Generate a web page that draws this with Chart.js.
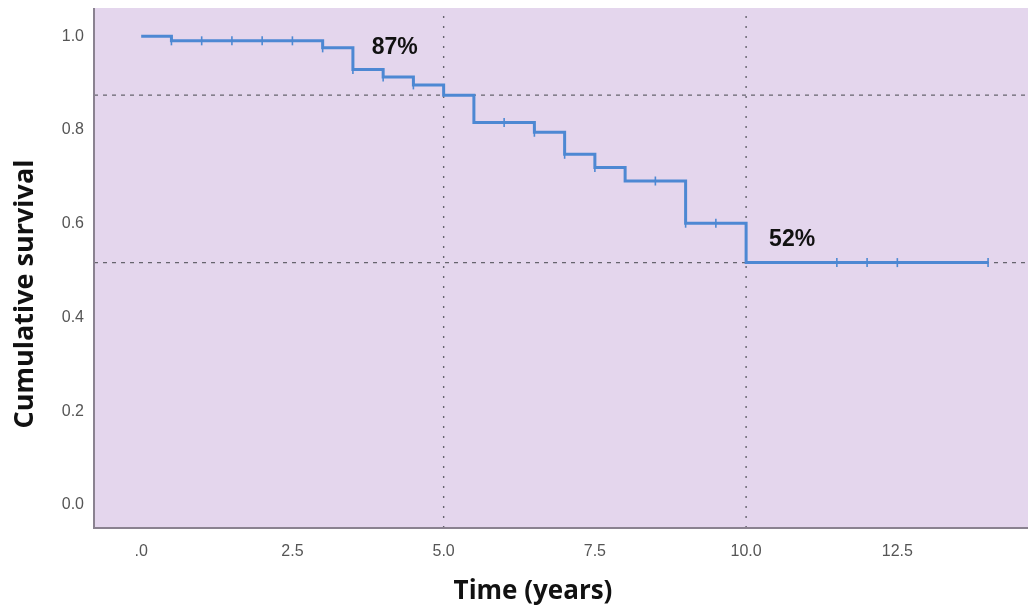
<!DOCTYPE html>
<html>
<head>
<meta charset="utf-8">
<script src="https://cdn.jsdelivr.net/npm/chart.js@4.4.1/dist/chart.umd.min.js"></script>
<style>
  html, body { margin: 0; padding: 0; background: #ffffff; overflow: hidden; }
  #km { display: block; }
</style>
</head>
<body>
<canvas id="km" width="1028" height="607"></canvas>
<script>
// Kaplan–Meier estimate: step times and survival after each step
const eventTimes = [0, 0.5, 3.0, 3.5, 4.0, 4.5, 5.0, 5.5, 6.5, 7.0, 7.5, 8.0, 9.0, 10.0, 14.0];
const survival   = [1.0, 0.99, 0.975, 0.929, 0.913, 0.896, 0.874, 0.816, 0.795, 0.748, 0.72, 0.691, 0.601, 0.517, 0.517];

// Censored observations (years)
const censorTimes = [0.5, 1.0, 1.5, 2.0, 2.5, 3.0, 3.5, 4.0, 4.5, 6.0, 6.5, 7.0, 7.5, 8.5, 9.0, 9.5, 11.5, 12.0, 12.5, 14.0];

// Landmark times with reference lines
const landmarkTimes = [5, 10];

// Axis ticks
const xTicks = [0, 2.5, 5.0, 7.5, 10.0, 12.5];
const xTickLabels = ['.0', '2.5', '5.0', '7.5', '10.0', '12.5'];
const yTicks = [0.0, 0.2, 0.4, 0.6, 0.8, 1.0];

const xTitle = 'Time (years)';
const yTitle = 'Cumulative survival';

const X_MIN = -0.78, X_MAX = 14.66;
const Y_MIN = -0.049, Y_MAX = 1.06;

// survival level in effect at time t
function survivalAt(t) {
  let s = survival[0];
  for (let i = 0; i < eventTimes.length; i++) {
    if (eventTimes[i] <= t) s = survival[i];
  }
  return s;
}

const lineBlue = '#4d88d3';
const refGrey = '#66646e';

const kmPoints = eventTimes.map((t, i) => ({ x: t, y: survival[i] }));
const censorPoints = censorTimes.map(t => ({ x: t, y: survivalAt(t) }));
const landmarkLevels = landmarkTimes.map(t => survivalAt(t));

const refDatasets = [];
landmarkTimes.forEach((t, i) => {
  refDatasets.push({
    type: 'line',
    data: [{ x: X_MIN, y: landmarkLevels[i] }, { x: X_MAX, y: landmarkLevels[i] }],
    borderColor: refGrey, borderWidth: 1.2, borderDash: [4, 5],
    pointRadius: 0, fill: false, order: 5
  });
  refDatasets.push({
    type: 'line',
    data: [{ x: t, y: Y_MIN }, { x: t, y: Y_MAX }],
    borderColor: refGrey, borderWidth: 1.4, borderDash: [2, 8],
    pointRadius: 0, fill: false, order: 5
  });
});

// plot background, axis titles and landmark percentage labels
const plotDecor = {
  id: 'plotDecor',
  beforeDraw(chart) {
    const { ctx, chartArea: a } = chart;
    ctx.save();
    ctx.fillStyle = '#e4d6ed';
    ctx.fillRect(a.left, a.top, a.right - a.left, a.bottom - a.top);
    ctx.restore();
  },
  afterDatasetsDraw(chart) {
    const { ctx, scales } = chart;
    const a = chart.chartArea;
    ctx.save();
    ctx.fillStyle = '#111111';
    ctx.font = 'bold 23px "Liberation Sans", Arial, sans-serif';
    ctx.textAlign = 'center';
    ctx.textBaseline = 'middle';
    const offsets = [[-49, -48], [46, -23]];
    landmarkTimes.forEach((t, i) => {
      const px = scales.x.getPixelForValue(t) + offsets[i][0];
      const py = scales.y.getPixelForValue(landmarkLevels[i]) + offsets[i][1];
      ctx.fillText(Math.round(landmarkLevels[i] * 100) + '%', px, py);
    });

    // axis titles
    ctx.fillStyle = '#111111';
    ctx.font = 'bold 26px "Open Sans", sans-serif';
    ctx.textBaseline = 'alphabetic';
    ctx.fillText(xTitle, 533, 599);
    ctx.save();
    ctx.translate(33, 294);
    ctx.rotate(-Math.PI / 2);
    ctx.font = 'bold 27px "Open Sans", sans-serif';
    ctx.fillText(yTitle, 0, 0);
    ctx.restore();

    // left and bottom axis lines
    ctx.strokeStyle = '#8a8290';
    ctx.lineWidth = 2;
    ctx.beginPath();
    ctx.moveTo(a.left, a.top);
    ctx.lineTo(a.left, a.bottom);
    ctx.lineTo(a.right, a.bottom);
    ctx.stroke();
    ctx.restore();
  }
};

new Chart(document.getElementById('km'), {
  type: 'scatter',
  data: {
    datasets: [
      {
        type: 'line',
        label: 'Survival',
        data: kmPoints,
        stepped: 'before',
        borderColor: lineBlue,
        borderWidth: 3,
        pointRadius: 0,
        fill: false,
        order: 1
      },
      {
        type: 'scatter',
        label: 'Censored',
        data: censorPoints,
        pointStyle: 'line',
        rotation: 90,
        radius: 4.5,
        borderColor: lineBlue,
        borderWidth: 1.6,
        backgroundColor: lineBlue,
        order: 0
      },
      ...refDatasets
    ]
  },
  options: {
    responsive: false,
    animation: false,
    layout: { autoPadding: false, padding: { top: 8, right: 0, left: 0, bottom: 0 } },
    plugins: { legend: { display: false }, tooltip: { enabled: false } },
    scales: {
      x: {
        type: 'linear', min: X_MIN, max: X_MAX,
        grid: { display: false, drawTicks: false },
        border: { display: false },
        afterBuildTicks(scale) { scale.ticks = xTicks.map(v => ({ value: v })); },
        afterFit(scale) { scale.height = 79; scale.paddingLeft = 0; scale.paddingRight = 0; },
        ticks: {
          padding: 14,
          color: '#555555',
          font: { family: '"Liberation Sans Narrow", "Liberation Sans", Arial, sans-serif', size: 16 },
          callback: (v) => xTickLabels[xTicks.indexOf(v)] ?? ''
        },
        title: { display: false }
      },
      y: {
        type: 'linear', min: Y_MIN, max: Y_MAX,
        grid: { display: false, drawTicks: false },
        border: { display: false },
        afterBuildTicks(scale) { scale.ticks = yTicks.map(v => ({ value: v })); },
        afterFit(scale) { scale.width = 94; scale.paddingTop = 0; scale.paddingBottom = 0; },
        ticks: {
          padding: 10,
          color: '#555555',
          font: { family: '"Liberation Sans", Arial, sans-serif', size: 16 },
          callback: (v) => v.toFixed(1)
        },
        title: { display: false }
      }
    }
  },
  plugins: [plotDecor]
});
</script>
</body>
</html>
